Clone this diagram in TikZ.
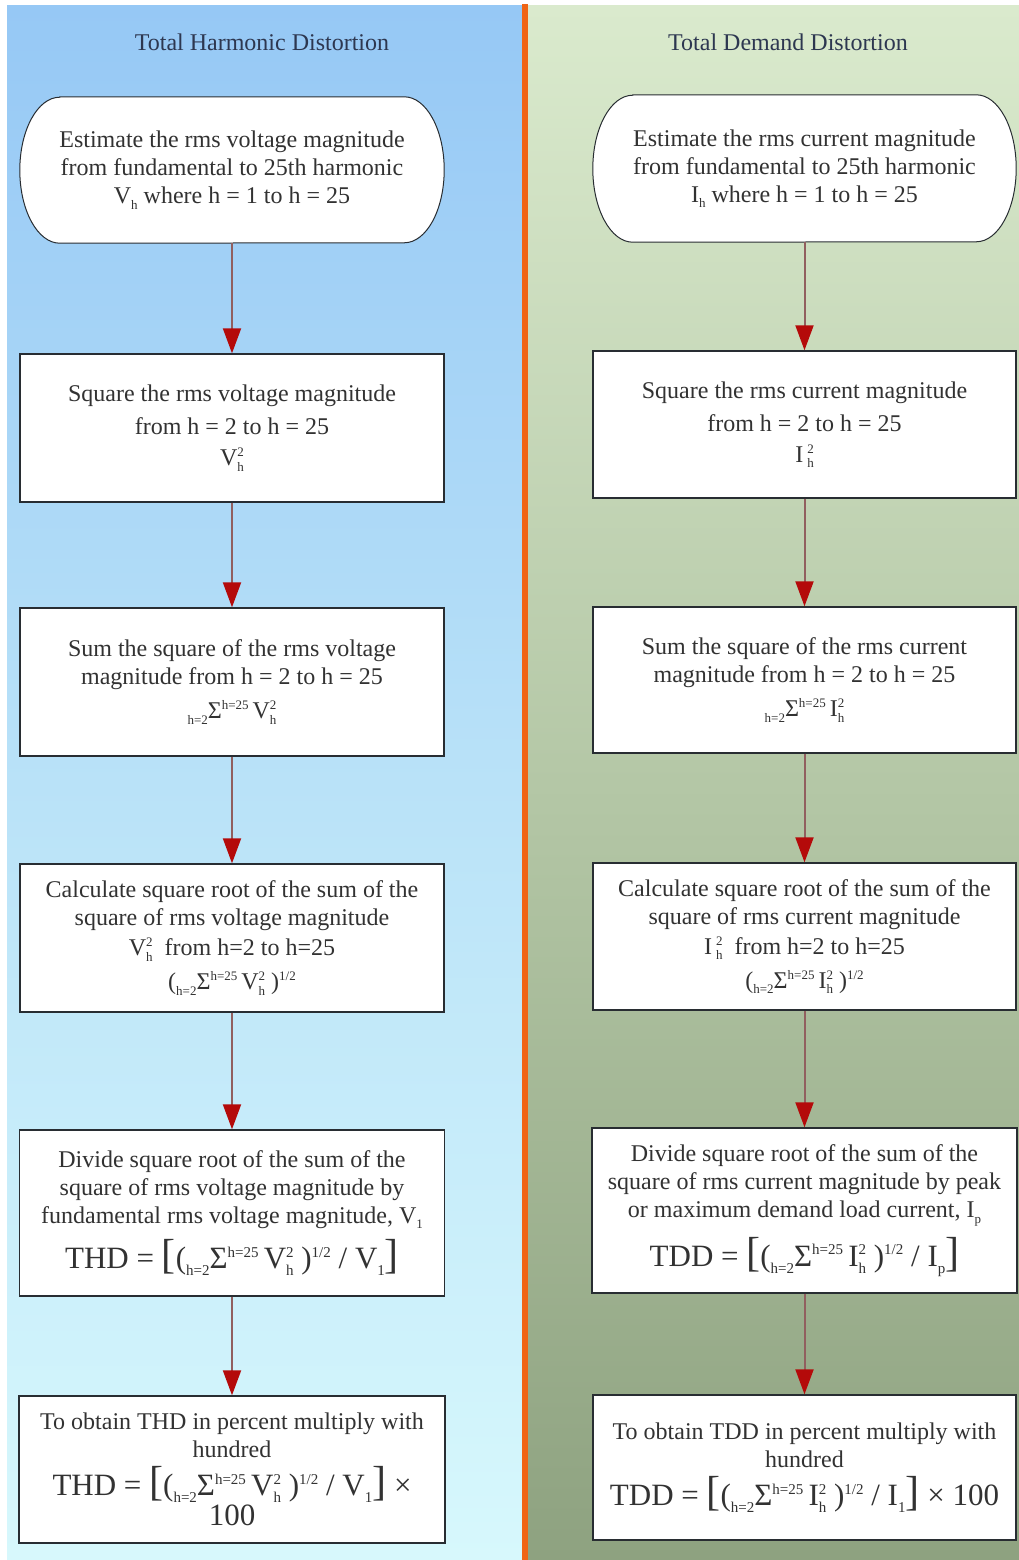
\documentclass[tikz,border=0pt]{standalone}
\usepackage{fontspec}
\setmainfont{Liberation Serif}
\usetikzlibrary{arrows.meta,calc}
\pgfdeclarelayer{bg}
\pgfsetlayers{bg,main}
\definecolor{bluetop}{RGB}{150,200,245}
\definecolor{bluemid}{RGB}{185,226,248}
\definecolor{bluebot}{RGB}{215,248,252}
\definecolor{greentop}{RGB}{218,234,205}
\definecolor{greenmid}{RGB}{180,199,166}
\definecolor{greenbot}{RGB}{142,162,128}
\definecolor{sep}{RGB}{240,100,20}
\definecolor{txt}{RGB}{50,50,50}
\definecolor{ttl}{RGB}{45,55,80}
\definecolor{boxline}{RGB}{40,45,50}
\definecolor{arrline}{RGB}{145,95,95}
\definecolor{arrred}{RGB}{180,10,10}
\def\myscr{13}
\newcommand\mylo[1]{\raisebox{-0.5ex}{\fontsize{\myscr}{\myscr}\selectfont #1}}
\newcommand\myhi[1]{\raisebox{0.8ex}{\fontsize{\myscr}{\myscr}\selectfont #1}}
\newcommand\myss[2]{\rlap{\mylo{#1}}\myhi{#2}}
\newcommand\mybr[1]{{\fontsize{42}{42}\selectfont #1}}
\newcommand\mysum{\mylo{h=2}Σ\myhi{h=25}\,}
\newcommand\myformula[1]{{\def\myscr{15}\fontsize{31}{36}\selectfont #1}}
\begin{document}
\begin{tikzpicture}[x=1pt,y=1pt,
  every node/.style={text=txt},
  title/.style={text=ttl,font=\fontsize{24}{28}\selectfont},
  stepbox/.style={draw=boxline,line width=1.4pt,fill=white,minimum width=424pt,minimum height=148pt,
    inner sep=0pt,align=center,font=\fontsize{24}{28}\selectfont},
  termnode/.style={minimum width=424pt,minimum height=146pt,inner sep=0pt,align=center,
    font=\fontsize{24}{28}\selectfont},
  termline/.style={draw=boxline,line width=1pt,fill=white},
  arr/.style={draw=arrline,line width=2pt,-{Triangle[length=25pt,width=18pt,color=arrred,fill=arrred]}}
]
\useasboundingbox (0,0) rectangle (1019,-1560);

% ---------- left column ----------
\node[title] (tl) at (262,-42) {Total Harmonic Distortion};
\node[termnode] (L1) at (232,-170) {Estimate the rms voltage magnitude\\ from fundamental to 25th harmonic\\ V\mylo{h} where h = 1 to h = 25};
\node[stepbox] (L2) at (232,-428) {Square the rms voltage magnitude\\[5pt] from h = 2 to h = 25\\[3pt] V\myss{h}{2}};
\node[stepbox] (L3) at (232,-682) {Sum the square of the rms voltage\\ magnitude from h = 2 to h = 25\\[6pt] \mysum V\myss{h}{2}};
\node[stepbox] (L4) at (232,-938) {Calculate square root of the sum of the\\ square of rms voltage magnitude\\[2pt] V\myss{h}{2}\ \ from h=2 to h=25\\[6pt] (\mysum V\myss{h}{2}\ )\myhi{1/2}};
\node[stepbox,minimum width=425pt,minimum height=166pt] (L5) at (232,-1213) {Divide square root of the sum of the\\ square of rms voltage magnitude by\\ fundamental rms voltage magnitude, V\mylo{1}\\[10pt]
  \myformula{THD = \mybr{[}(\mysum V\myss{h}{2}\ )\myhi{1/2} / V\mylo{1}\mybr{]}}};
\node[stepbox,minimum width=426pt,minimum height=147pt] (L6) at (232,-1469.5) {To obtain THD in percent multiply with\\ hundred\\[8pt]
  \myformula{THD = \mybr{[}(\mysum V\myss{h}{2}\ )\myhi{1/2} / V\mylo{1}\mybr{]} ×}\\[2pt]
  \myformula{100}};

% ---------- right column ----------
\node[title] (tr) at (788,-42) {Total Demand Distortion};
\node[termnode,minimum width=423pt,minimum height=147pt] (R1) at (804.5,-168.5) {Estimate the rms current magnitude\\ from fundamental to 25th harmonic\\ I\mylo{h} where h = 1 to h = 25};
\node[stepbox,minimum width=423pt,minimum height=147pt] (R2) at (804.5,-424.5) {Square the rms current magnitude\\[5pt] from h = 2 to h = 25\\[3pt] I\,\myss{h}{2}};
\node[stepbox,minimum width=423pt,minimum height=146pt] (R3) at (804.5,-680) {Sum the square of the rms current\\ magnitude from h = 2 to h = 25\\[6pt] \mysum I\myss{h}{2}};
\node[stepbox,minimum width=423pt,minimum height=147pt] (R4) at (804.5,-936.5) {Calculate square root of the sum of the\\ square of rms current magnitude\\[2pt] I\,\myss{h}{2}\ \ from h=2 to h=25\\[6pt] (\mysum I\myss{h}{2}\ )\myhi{1/2}};
\node[stepbox,minimum width=425pt,minimum height=165pt] (R5) at (804.5,-1210.5) {Divide square root of the sum of the\\ square of rms current magnitude by peak\\ or maximum demand load current, I\mylo{p}\\[10pt]
  \myformula{TDD = \mybr{[}(\mysum I\myss{h}{2}\ )\myhi{1/2} / I\mylo{p}\mybr{]}}};
\node[stepbox,minimum width=423pt,minimum height=145pt] (R6) at (804.5,-1467.5) {To obtain TDD in percent multiply with\\ hundred\\[8pt]
  \myformula{TDD = \mybr{[}(\mysum I\myss{h}{2}\ )\myhi{1/2} / I\mylo{1}\mybr{]} × 100}};

% ---------- backgrounds and terminal shapes ----------
\begin{pgfonlayer}{bg}
  \shade[top color=bluetop,bottom color=bluebot,middle color=bluemid] (7,-6) rectangle (522,-1560);
  \shade[top color=greentop,bottom color=greenbot,middle color=greenmid] (528,-6) rectangle (1019,-1560);
  \fill[sep] (522,-4) rectangle (528,-1560);
  \draw[termline] ($(L1.north west)+(40,0)$) -- ($(L1.north east)+(-40,0)$)
     arc[start angle=90,end angle=-90,x radius=40,y radius=73]
     -- ($(L1.south west)+(40,0)$)
     arc[start angle=270,end angle=90,x radius=40,y radius=73] -- cycle;
  \draw[termline] ($(R1.north west)+(40,0)$) -- ($(R1.north east)+(-40,0)$)
     arc[start angle=90,end angle=-90,x radius=40,y radius=73.5]
     -- ($(R1.south west)+(40,0)$)
     arc[start angle=270,end angle=90,x radius=40,y radius=73.5] -- cycle;
\end{pgfonlayer}

% ---------- connectors ----------
\draw[arr] (L1.south) -- (L2.north);
\draw[arr] (L2.south) -- (L3.north);
\draw[arr] (L3.south) -- (L4.north);
\draw[arr] (L4.south) -- (L5.north);
\draw[arr] (L5.south) -- (L6.north);
\draw[arr] (R1.south) -- (R2.north);
\draw[arr] (R2.south) -- (R3.north);
\draw[arr] (R3.south) -- (R4.north);
\draw[arr] (R4.south) -- (R5.north);
\draw[arr] (R5.south) -- (R6.north);
\end{tikzpicture}
\end{document}
